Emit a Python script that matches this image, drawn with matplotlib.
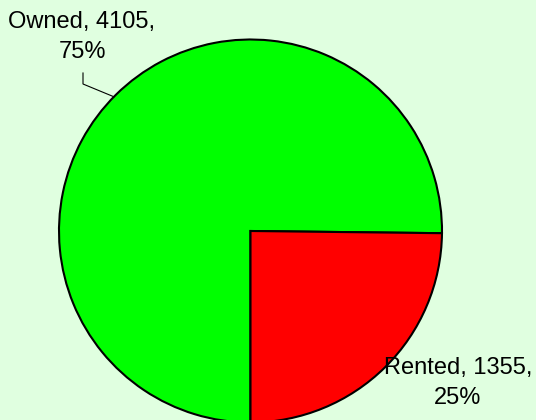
import numpy as np
import matplotlib.pyplot as plt

# data
labels = ['Owned', 'Rented']
values = [4105, 1355]
colors = ['#00FF00', '#FF0000']
bg = '#E0FFE0'

W, H = 536, 420
fig = plt.figure(figsize=(W / 100, H / 100), dpi=100, facecolor=bg)
ax = fig.add_axes([0, 0, 1, 1])
ax.set_facecolor(bg)

# pie in pixel coordinates (y up)
cx, cy, r = 250.5, H - 231, 191.5
ax.pie(values, colors=colors, startangle=270, counterclock=False,
       center=(cx, cy), radius=r,
       wedgeprops=dict(edgecolor='black', linewidth=1.5))
ax.set_xlim(0, W)
ax.set_ylim(0, H)
ax.set_aspect('equal')
ax.axis('off')

total = sum(values)
pct = [round(v / total * 100) for v in values]
font = dict(family='Liberation Sans', fontsize=17, color='black',
            ha='center', va='center', linespacing=1.45)

# Owned label with leader line
ax.text(82, H - 37, f'{labels[0]}, {values[0]},\n{pct[0]}%', **font)
ang = np.deg2rad(135.5)
ex, ey = cx + r * np.cos(ang), cy + r * np.sin(ang)
ax.plot([83, 83, ex], [H - 73, H - 84, ey], color='black', lw=0.8)

# Rented label
ax.text(458, H - 383, f'{labels[1]}, {values[1]},\n{pct[1]}%', **font)

fig.savefig('out.png', dpi=100, facecolor=bg)
